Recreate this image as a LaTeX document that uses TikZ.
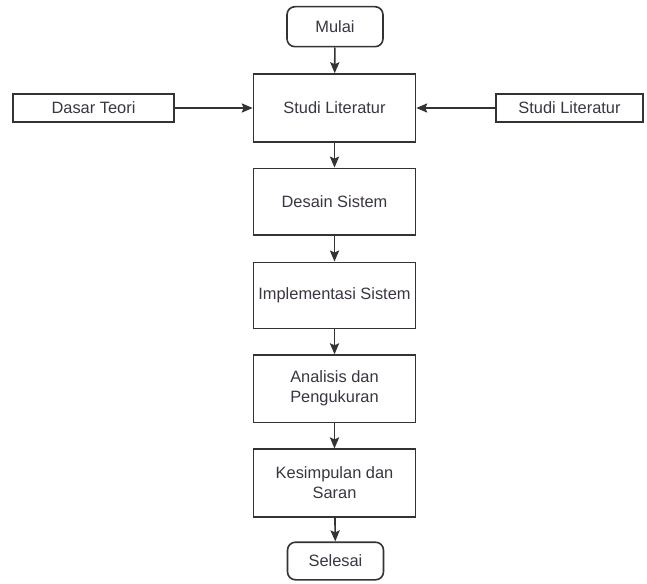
\documentclass[tikz,border=0pt]{standalone}
\usepackage{fontspec}
\setmainfont{Liberation Sans}
\usetikzlibrary{arrows.meta}
\definecolor{ln}{HTML}{333333}
\definecolor{tx}{HTML}{3A3540}
\begin{document}
\begin{tikzpicture}[x=0.5pt,y=-0.5pt,
  every node/.style={font=\fontsize{8.2pt}{10pt}\selectfont, text=tx, align=center, inner sep=0pt},
  box/.style={draw=ln, line width=0.8pt, fill=white, rectangle, minimum width=81pt},
  term/.style={draw=ln, line width=0.8pt, fill=white, rectangle, rounded corners=4pt, minimum width=48pt},
  side/.style={draw=ln, line width=0.8pt, fill=white, rectangle, minimum height=14pt},
  arr/.style={draw=ln, line width=0.8pt, -{Stealth[length=5.5pt,width=4.6pt,inset=1pt]}}]
\useasboundingbox (0,0) rectangle (647,583);
\fill[white] (0,0) rectangle (647,583);
\node[term, minimum height=20pt] (mulai) at (335,26.7) {Mulai};
\node[box, minimum height=34pt] (studi) at (334.5,108) {Studi Literatur};
\node[side, minimum width=80.5pt] (dasar) at (93.5,108) {Dasar Teori};
\node[side, minimum width=73.5pt] (studi2) at (569.5,108) {Studi Literatur};
\node[box, minimum height=33.3pt] (desain) at (334.5,201.7) {Desain Sistem};
\node[box, minimum height=33pt] (impl) at (334.5,295.3) {Implementasi Sistem};
\node[box, minimum height=33.6pt] (anal) at (334.5,388.7) {Analisis dan\\Pengukuran};
\node[box, minimum height=33.8pt] (kes) at (334.5,483) {Kesimpulan dan\\Saran};
\node[term, minimum height=18.8pt] (selesai) at (335.5,561) {Selesai};
\draw[arr] (mulai) -- (studi);
\draw[arr] (dasar) -- (studi);
\draw[arr] (studi2) -- (studi);
\draw[arr] (studi) -- (desain);
\draw[arr] (desain) -- (impl);
\draw[arr] (impl) -- (anal);
\draw[arr] (anal) -- (kes);
\draw[arr] (kes) -- (selesai);
\end{tikzpicture}
\end{document}
